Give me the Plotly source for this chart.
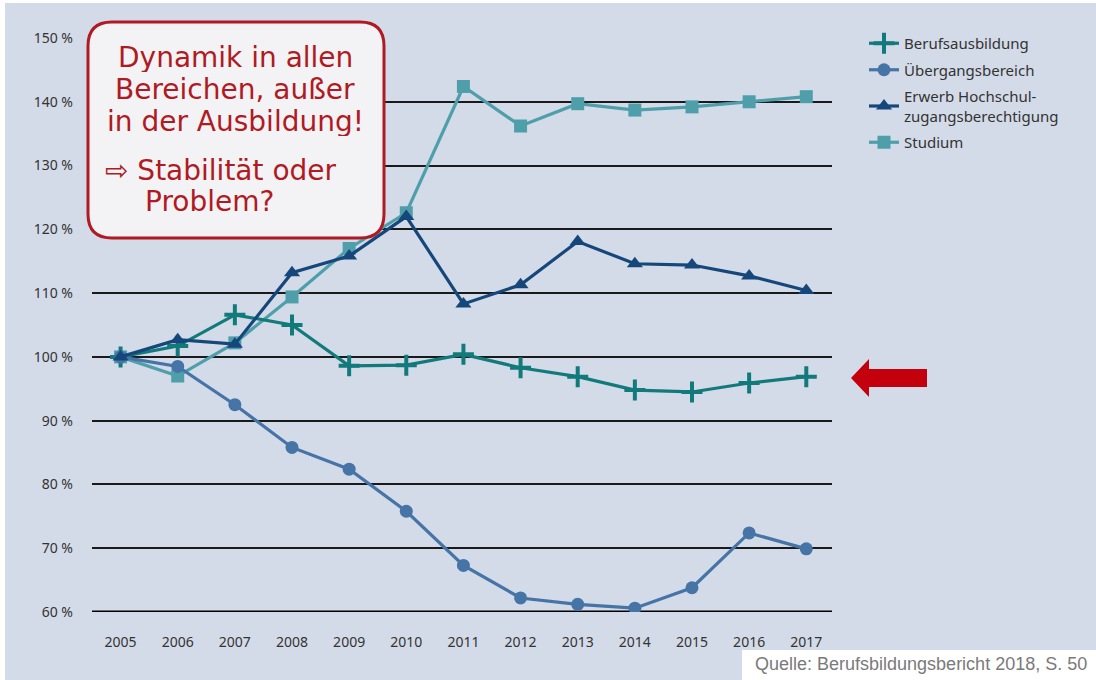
import plotly.graph_objects as go

# --- data -------------------------------------------------------------
years = [2005, 2006, 2007, 2008, 2009, 2010, 2011, 2012, 2013, 2014, 2015, 2016, 2017]

berufsausbildung = [100.0, 101.7, 106.6, 105.0, 98.6, 98.7, 100.4, 98.3, 96.9, 94.8, 94.5, 95.9, 96.9]
uebergangsbereich = [100.0, 98.5, 92.5, 85.8, 82.4, 75.8, 67.3, 62.2, 61.2, 60.6, 63.8, 72.4, 69.9]
hochschulzugang = [100.0, 102.7, 102.0, 113.2, 115.8, 122.0, 108.3, 111.3, 118.1, 114.6, 114.4, 112.7, 110.4]
studium = [100.0, 97.0, 102.2, 109.4, 117.0, 122.6, 142.4, 136.2, 139.7, 138.7, 139.2, 140.0, 140.8]

tick_values = [60, 70, 80, 90, 100, 110, 120, 130, 140, 150]
tick_labels = [f"{v} %" for v in tick_values]

series_names = ["Berufsausbildung", "Übergangsbereich",
                "Erwerb Hochschul-<br>zugangsberechtigung", "Studium"]
series_values = [berufsausbildung, uebergangsbereich, hochschulzugang, studium]
series_colors = ["#137a7b", "#4674a6", "#16477a", "#4f9fab"]

box_lines = ["Dynamik in allen", "Bereichen, außer", "in der Ausbildung!"]
box_lines2 = ["⇨ Stabilität oder", "Problem?"]
source_text = "Quelle: Berufsbildungsbericht 2018, S. 50"

# --- page geometry (pixels) ------------------------------------------
W, H = 1096, 680
L, R, T, B = 92, 264, 38, 68
PW, PH = W - L - R, H - T - B
BG = "#d3dbe8"
RED = "#b01a22"


def px(x):
    return (x - L) / PW


def py(y):
    return (H - B - y) / PH


fig = go.Figure()

marker_styles = [
    dict(symbol="cross-thin", size=15, line=dict(width=4)),
    dict(symbol="circle", size=13),
    dict(symbol="triangle-up", size=14),
    dict(symbol="square", size=13),
]

# Studium is painted first so the other series sit on top of it
draw_order = [3, 0, 1, 2]
for i in draw_order:
    name, vals, col, mk = series_names[i], series_values[i], series_colors[i], marker_styles[i]
    m = dict(mk)
    m["color"] = col
    if "line" in m:
        m["line"] = dict(m["line"], color=col)
    fig.add_trace(go.Scatter(
        x=years, y=vals, name=name, mode="lines+markers",
        line=dict(color=col, width=3.2), marker=m,
        legendgroup=f"g{i}", legendrank=i + 1,
    ))

shapes = []

# white page edges
shapes.append(dict(type="rect", xref="paper", yref="paper", x0=px(0), x1=px(W), y0=py(0), y1=py(3),
                   fillcolor="white", line=dict(width=0), layer="below"))
shapes.append(dict(type="rect", xref="paper", yref="paper", x0=px(0), x1=px(5), y0=py(0), y1=py(H),
                   fillcolor="white", line=dict(width=0), layer="below"))
# source box
shapes.append(dict(type="rect", xref="paper", yref="paper", x0=px(742), x1=px(W), y0=py(650), y1=py(H),
                   fillcolor="white", line=dict(width=0), layer="above"))

# rounded callout box
x0, x1, y0, y1, r = 88, 384, 22, 238, 24
rx, ry = r / PW, r / PH
X0, X1, Y0, Y1 = px(x0), px(x1), py(y0), py(y1)
path = (f"M {X0+rx},{Y0} L {X1-rx},{Y0} Q {X1},{Y0} {X1},{Y0-ry} "
        f"L {X1},{Y1+ry} Q {X1},{Y1} {X1-rx},{Y1} "
        f"L {X0+rx},{Y1} Q {X0},{Y1} {X0},{Y1+ry} "
        f"L {X0},{Y0-ry} Q {X0},{Y0} {X0+rx},{Y0} Z")
shapes.append(dict(type="path", xref="paper", yref="paper", path=path,
                   fillcolor="#f3f3f5", line=dict(color=RED, width=3), layer="above"))

# red arrow pointing left
pts = [(851, 378), (869, 359), (869, 369), (927, 369), (927, 387), (869, 387), (869, 397)]
apath = "M " + " L ".join(f"{px(a)},{py(b)}" for a, b in pts) + " Z"
shapes.append(dict(type="path", xref="paper", yref="paper", path=apath,
                   fillcolor="#c3000c", line=dict(width=0), layer="above"))

annotations = []
box_font = dict(family="DejaVu Sans", size=28, color=RED)
for txt, yc in zip(box_lines, [57, 89, 121]):
    annotations.append(dict(text=txt, x=px(235), y=py(yc), xref="paper", yref="paper",
                            xanchor="center", yanchor="middle", showarrow=False, font=box_font,
                            height=30, valign="middle"))
annotations.append(dict(text=box_lines2[0], x=px(103), y=py(170), xref="paper", yref="paper",
                        xanchor="left", yanchor="middle", showarrow=False, font=box_font,
                        height=30, valign="middle"))
annotations.append(dict(text=box_lines2[1], x=px(143), y=py(201), xref="paper", yref="paper",
                        xanchor="left", yanchor="middle", showarrow=False, font=box_font,
                        height=30, valign="middle"))
annotations.append(dict(text=source_text, x=px(1089), y=py(664), xref="paper", yref="paper",
                        xanchor="right", yanchor="middle", showarrow=False,
                        font=dict(family="Liberation Sans", size=18, color="#7a7a7a")))

fig.update_layout(
    width=W, height=H,
    margin=dict(l=L, r=R, t=T, b=B, pad=0),
    paper_bgcolor=BG, plot_bgcolor=BG,
    shapes=shapes, annotations=annotations,
    font=dict(family="Noto Sans", size=13, color="#333333"),
    legend=dict(x=px(864), y=py(27), xanchor="left", yanchor="top",
                bgcolor="rgba(0,0,0,0)", font=dict(family="Noto Sans", size=15, color="#333333"),
                tracegroupgap=4, traceorder="grouped", itemwidth=30),
    showlegend=True,
)

fig.update_xaxes(range=[2004.5, 2017.45], tickmode="array", tickvals=years,
                 ticktext=[str(y) for y in years], showgrid=False, zeroline=False,
                 showline=False, ticks="", ticklabelstandoff=20,
                 tickfont=dict(family="Noto Sans", size=14, color="#333333"))
fig.update_yaxes(range=[60, 150], tickmode="array", tickvals=tick_values, ticktext=tick_labels,
                 showgrid=True, gridcolor="#1a1a1a", gridwidth=1.5, zeroline=False,
                 showline=False, ticks="", ticklabelstandoff=18,
                 tickfont=dict(family="Noto Sans", size=14, color="#333333"))

# heavier baseline at 60 %
fig.add_shape(type="line", xref="paper", yref="y", x0=0, x1=1, y0=60, y1=60,
              line=dict(color="black", width=3), layer="below")

fig.write_html("out.html")
